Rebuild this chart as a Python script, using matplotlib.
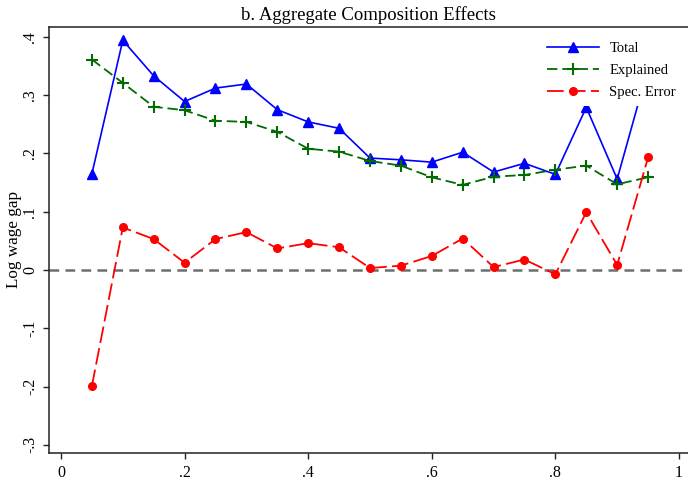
import matplotlib
matplotlib.use("Agg")
import matplotlib.pyplot as plt

plt.rcParams['font.family'] = ['Liberation Serif', 'DejaVu Serif']
plt.rcParams['lines.scale_dashes'] = False

x = [0.05, 0.10, 0.15, 0.20, 0.25, 0.30, 0.35, 0.40, 0.45, 0.50,
     0.55, 0.60, 0.65, 0.70, 0.75, 0.80, 0.85, 0.90, 0.95]
total = [0.165, 0.394, 0.333, 0.289, 0.312, 0.319, 0.275, 0.254, 0.243, 0.192,
         0.189, 0.185, 0.202, 0.168, 0.183, 0.164, 0.279, 0.156, 0.346]
explained = [0.361, 0.321, 0.280, 0.274, 0.256, 0.254, 0.237, 0.208, 0.203, 0.187,
             0.179, 0.159, 0.146, 0.160, 0.163, 0.172, 0.179, 0.147, 0.159]
spec_error = [-0.199, 0.073, 0.053, 0.0125, 0.053, 0.065, 0.037, 0.046, 0.039, 0.0034,
              0.0074, 0.024, 0.054, 0.005, 0.018, -0.0074, 0.099, 0.0086, 0.193]

xticks = [0, 0.2, 0.4, 0.6, 0.8, 1.0]
xticklabels = ['0', '.2', '.4', '.6', '.8', '1']
yticks = [0.4, 0.3, 0.2, 0.1, 0.0, -0.1, -0.2, -0.3]
yticklabels = ['.4', '.3', '.2', '.1', '0', '-.1', '-.2', '-.3']

W, H = 688, 479
fig = plt.figure(figsize=(W / 100, H / 100), dpi=100)
ax = fig.add_axes([49 / W, 1 - 453 / H, 1 - 49 / W, (453 - 27) / H])

ax.axhline(0, color='#6e6e6e', lw=1.8, dashes=(7, 4.5), zorder=1)

ax.plot(x, total, color='#0000ff', lw=1.2, marker='^', markersize=7.5,
        label='Total', zorder=3)
ax.plot(x, explained, color='#006b00', lw=1.3, dashes=(7.5, 3.5), marker='+',
        markersize=8, markeredgewidth=1.5, label='Explained', zorder=3)
ax.plot(x, spec_error, color='#ff0000', lw=1.3, dashes=(12, 3.8), marker='o',
        markersize=5.5, label='Spec. Error', zorder=3)

ax.set_xlim(-0.0194, 1.0146)
ax.set_ylim(-0.3139, 0.4168)

ax.set_xticks(xticks)
ax.set_xticklabels(xticklabels)
ax.set_yticks(yticks)
ax.set_yticklabels(yticklabels, rotation=90, va='center')

for s in ['left', 'bottom', 'top']:
    ax.spines[s].set_linewidth(1.1)
    ax.spines[s].set_color('#222222')
ax.spines['right'].set_visible(False)
ax.tick_params(axis='both', direction='out', length=4.3, width=1.0,
               color='#222222', labelsize=11.5)
ax.tick_params(axis='y', pad=3.5)
ax.tick_params(axis='x', pad=4)

ax.set_ylabel('Log wage gap', fontsize=12.3)
ax.yaxis.set_label_coords(-0.042, 0.5)
ax.set_title('b. Aggregate Composition Effects', fontsize=13.5, pad=5)

leg = ax.legend(loc='upper left', bbox_to_anchor=(532 / W, 1 - 27 / H),
                bbox_transform=fig.transFigure, fontsize=10.5,
                frameon=True, fancybox=False, edgecolor='none',
                facecolor='white', framealpha=1.0, handlelength=3.6,
                handletextpad=0.7, labelspacing=0.6, borderpad=0.5)

fig.savefig('out.png', dpi=100)
